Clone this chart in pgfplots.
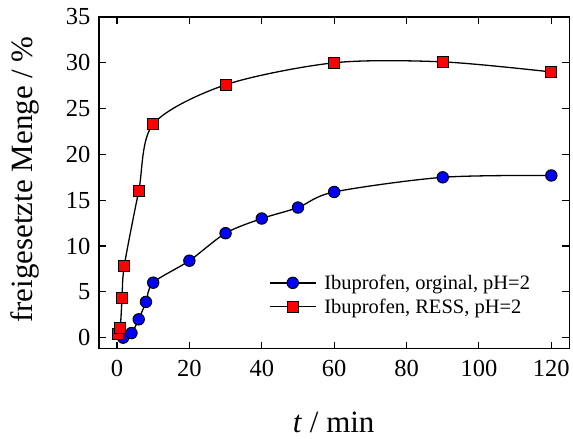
\documentclass[border=0pt]{standalone}
\usepackage{fontspec}
\setmainfont{Liberation Serif}
\usepackage{pgfplots}
\pgfplotsset{compat=1.18}
\begin{document}
\begin{tikzpicture}
\begin{axis}[
  scale only axis,
  width=471pt, height=332pt,
  xmin=-5, xmax=125, ymin=-1.2, ymax=35,
  xtick={0,20,...,120}, ytick={0,5,...,35},
  tick align=inside,
  major tick length=7pt,
  axis line style={line width=1.3pt},
  every tick/.style={black, line width=1.1pt},
  /pgf/number format/assume math mode=true,
  ticklabel style={font=\fontsize{24.5}{28}\selectfont},
  xticklabel style={yshift=-8pt},
  yticklabel style={xshift=-5pt},
  xlabel={\textit{t} / min},
  ylabel={freigesetzte Menge / \%},
  label style={font=\fontsize{31}{34}\selectfont},
  xlabel style={at={(axis description cs:0.499,-0.253)}, anchor=base, inner sep=0pt},
  ylabel style={at={(axis description cs:-0.158,0.51)}, anchor=center},
  legend style={draw=none, fill=none, at={(axis description cs:0.355,0.235)}, anchor=north west,
    font=\fontsize{20.5}{24}\selectfont, row sep=4pt},
  legend cell align=left,
  legend image code/.code={\draw[mark repeat=2,mark phase=2] plot coordinates {(0pt,0pt)(23pt,0pt)(46pt,0pt)}; \path (52pt,0pt);},
]
\addplot[black, line width=1.3pt, smooth, tension=0.5, mark=*, mark size=5.7pt,
  mark options={fill=blue, draw=black, line width=1pt}]
  coordinates {(1.7,0) (4,0.5) (6,2.0) (8,3.9) (10,6.0) (20,8.4) (30,11.4) (40,13.0) (50,14.2) (60,15.9) (90,17.5) (120,17.7)};
\addlegendentry{Ibuprofen, orginal, pH=2}
\addplot[black, line width=1.3pt, smooth, tension=0.5, mark=square*, mark size=5.5pt,
  mark options={fill=red, draw=black, line width=1pt}]
  coordinates {(0.3,0.4) (0.9,1.1) (1.4,4.3) (2,7.8) (6,16.0) (10,23.3) (30,27.6) (60,30.0) (90,30.1) (120,29.0)};
\addlegendentry{Ibuprofen, RESS, pH=2}
\end{axis}
\path[use as bounding box] ([xshift=-99pt,yshift=-90pt]current axis.south west) rectangle ([xshift=3pt,yshift=17pt]current axis.north east);
\end{tikzpicture}
\end{document}
